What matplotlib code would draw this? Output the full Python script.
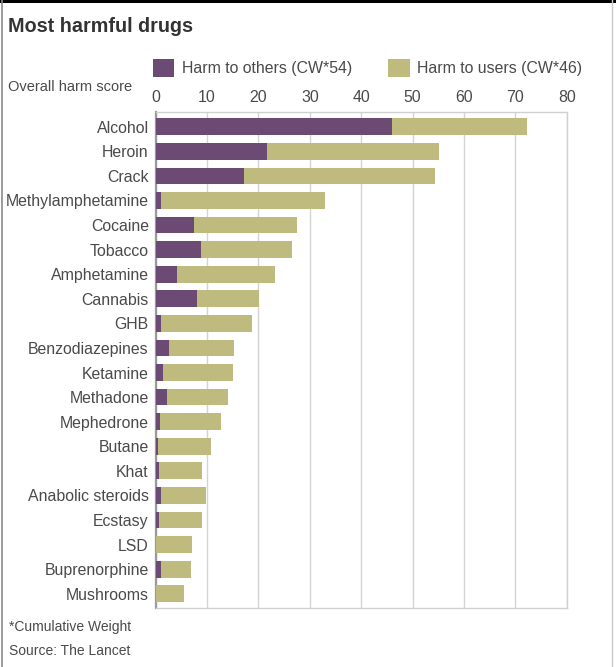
import matplotlib.pyplot as plt
from matplotlib.patches import Rectangle
from matplotlib.lines import Line2D

drugs = ['Alcohol', 'Heroin', 'Crack', 'Methylamphetamine', 'Cocaine', 'Tobacco',
         'Amphetamine', 'Cannabis', 'GHB', 'Benzodiazepines', 'Ketamine', 'Methadone',
         'Mephedrone', 'Butane', 'Khat', 'Anabolic steroids', 'Ecstasy', 'LSD',
         'Buprenorphine', 'Mushrooms']
harm_others = [46.0, 21.6, 17.2, 1.0, 7.4, 8.9, 4.1, 8.0, 1.0, 2.5,
               1.5, 2.2, 0.8, 0.4, 0.6, 1.0, 0.6, 0.0, 1.0, 0.0]
harm_users = [26.2, 33.6, 37.1, 32.0, 20.1, 17.7, 19.1, 12.1, 17.7, 12.8,
              13.6, 11.9, 11.9, 10.4, 8.5, 8.8, 8.5, 7.0, 5.8, 5.6]
xticks = [0, 10, 20, 30, 40, 50, 60, 70, 80]

PURPLE = '#6b4a73'
OLIVE = '#bfbb7e'
TXT = '#4a4a4a'
W, H = 616, 667

plt.rcParams['font.family'] = ['Liberation Sans', 'DejaVu Sans']

fig = plt.figure(figsize=(W / 100, H / 100), dpi=100)
ax = fig.add_axes([155.7 / W, 1 - 608 / H, 411 / W, 496 / H])

y = list(range(len(drugs)))
b1 = ax.barh(y, harm_others, height=0.68, color=PURPLE, label='Harm to others (CW*54)', zorder=3)
b2 = ax.barh(y, harm_users, left=harm_others, height=0.68, color=OLIVE,
             label='Harm to users (CW*46)', zorder=3)

ax.set_xlim(0, 80)
ax.set_ylim(len(drugs) - 0.42, -0.6)
ax.set_yticks(y)
ax.set_yticklabels(drugs)
ax.set_xticks(xticks)
ax.xaxis.tick_top()
ax.tick_params(axis='both', length=0, labelsize=11.4, labelcolor=TXT)
ax.tick_params(axis='x', pad=5)
ax.tick_params(axis='y', pad=5)
ax.grid(axis='x', color='#d4d4d4', lw=1, zorder=0)
for s in ['top', 'right', 'bottom']:
    ax.spines[s].set_color('#d0d0d0')
    ax.spines[s].set_linewidth(1)
ax.spines['left'].set_color('#9a9a9a')
ax.spines['left'].set_linewidth(1.6)

fig.legend(handles=[b1, b2], loc='center left', bbox_to_anchor=(153 / W, 1 - 68 / H),
           ncol=2, frameon=False, fontsize=11.4, labelcolor=TXT, borderpad=0,
           borderaxespad=0, handlelength=1.35, handleheight=1.3, handletextpad=0.45,
           columnspacing=2.3)

fig.text(8 / W, 1 - 27 / H, 'Most harmful drugs', fontsize=14.2, fontweight='bold',
         color='#333333', va='center')
fig.text(8 / W, 1 - 87 / H, 'Overall harm score', fontsize=10.5, color=TXT, va='center')
fig.text(9 / W, 1 - 627 / H, '*Cumulative Weight', fontsize=10, color=TXT, va='center')
fig.text(9 / W, 1 - 651 / H, 'Source: The Lancet', fontsize=10, color=TXT, va='center')

# image frame
fig.add_artist(Rectangle((0, 1 - 3 / H), 1, 3 / H, transform=fig.transFigure,
                         color='black', lw=0))
fig.add_artist(Line2D([1.5 / W, 1.5 / W], [0, 1], transform=fig.transFigure,
                      color='#8a8a8a', lw=1.2))
fig.add_artist(Line2D([612 / W, 612 / W], [0, 1], transform=fig.transFigure,
                      color='#c8c8c8', lw=1))

fig.savefig('out.png', dpi=100)
